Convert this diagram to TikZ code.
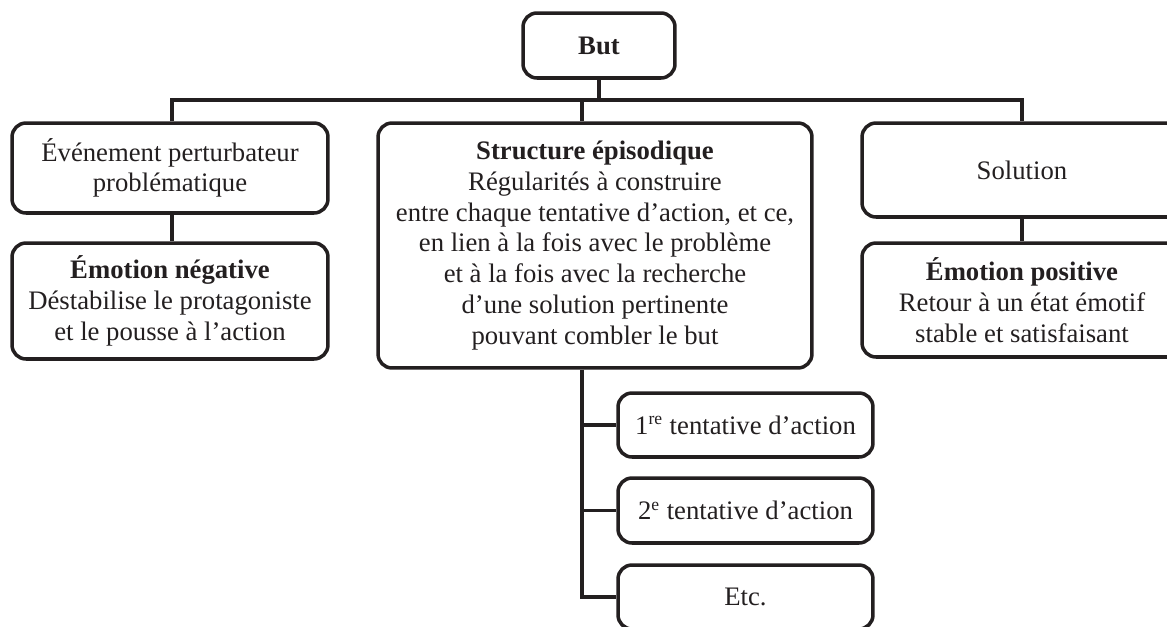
\documentclass[tikz,border=0pt]{standalone}
\usepackage{fontspec}
\setmainfont{Liberation Serif}
\definecolor{ink}{RGB}{35,31,32}
\newcommand{\supx}[1]{\textsuperscript{\fontsize{10}{10}\selectfont #1}}
\tikzset{
  box/.style={draw=ink, text=ink, rounded corners=0.28cm, line width=2pt, align=center, inner sep=0pt, font=\fontsize{15.2}{17.5}\selectfont},
  link/.style={draw=ink, line width=2pt}
}

\begin{document}
\begin{tikzpicture}[x=0.02cm, y=-0.02cm]
    \useasboundingbox (0,0) rectangle (1167,626);

    % nodes
    \node[box, minimum width=3.04cm, minimum height=1.3cm] (but) at (599,45.5) {\textbf{But}};

    \node[box, minimum width=6.32cm, minimum height=1.8cm] (evt) at (170,168) {Événement perturbateur\\problématique};
    \node[box, minimum width=6.32cm, minimum height=2.32cm] (emoneg) at (170,301) {\textbf{Émotion négative}\\Déstabilise le protagoniste\\et le pousse à l’action};

    \node[box, minimum width=8.68cm, minimum height=4.9cm] (struct) at (595,245.5) {\textbf{Structure épisodique}\\Régularités à construire\\entre chaque tentative d’action, et ce,\\en lien à la fois avec le problème\\et à la fois avec la recherche\\d’une solution pertinente\\pouvant combler le but};

    \node[box, minimum width=6.4cm, minimum height=1.88cm] (sol) at (1022,170) {Solution};
    \node[box, minimum width=6.4cm, minimum height=2.28cm] (emopos) at (1022,300) {\textbf{Émotion positive}\\Retour à un état émotif\\stable et satisfaisant};

    \node[box, minimum width=5.1cm, minimum height=1.28cm] (t1) at (745.5,425) {1\supx{re} tentative d’action};
    \node[box, minimum width=5.1cm, minimum height=1.3cm] (t2) at (745.5,510.5) {2\supx{e} tentative d’action};
    \node[box, minimum width=5.1cm, minimum height=1.28cm] (etc) at (745.5,597) {Etc.};

    % bus
    \coordinate (busL) at (172,100);
    \coordinate (busC) at (582,100);
    \coordinate (busR) at (1022,100);

    % edges
    \draw[link] (but) -- (but |- busL);
    \draw[link] (evt.north -| busL) -- (busL) -- (busR) -- (sol.north -| busR);
    \draw[link] (busC) -- (busC |- struct.north);
    \draw[link] (busL |- evt.south) -- (busL |- emoneg.north);
    \draw[link] (busR |- sol.south) -- (busR |- emopos.north);

    \draw[link] (busC |- struct.south) -- (busC |- etc) -- (etc.west);
    \draw[link] (busC |- t1) -- (t1.west);
    \draw[link] (busC |- t2) -- (t2.west);
\end{tikzpicture}
\end{document}
